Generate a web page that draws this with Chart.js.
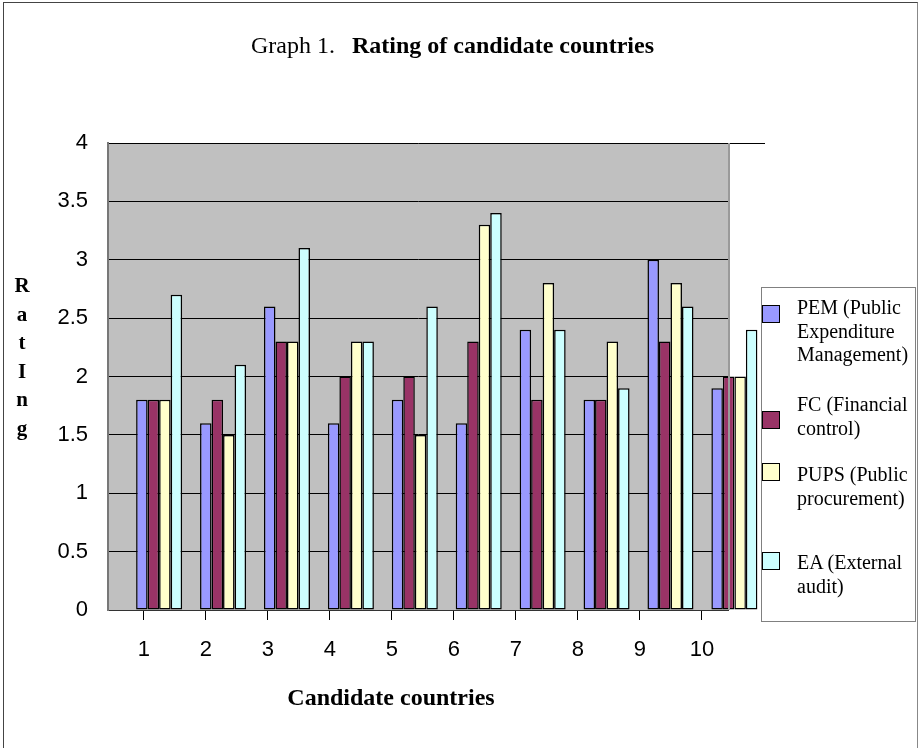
<!DOCTYPE html>
<html>
<head>
<meta charset="utf-8">
<script src="https://cdn.jsdelivr.net/npm/chart.js@4"></script>
<style>
  body { margin: 0; background: #fff; }
  #wrap { position: relative; width: 918px; height: 748px; overflow: hidden; }
  #frame { position: absolute; left: 3px; top: 2px; width: 913px; height: 800px;
    border: 1px solid #444; border-right-color: #888; border-bottom: none; }
  canvas { position: absolute; left: 0; top: 0; }
  #legend { position: absolute; left: 761px; top: 287px; width: 155px; height: 335px;
    border: 1px solid #808080; background: #fff; box-sizing: border-box;
    font-family: "Liberation Serif", "Times New Roman", serif; font-size: 20px; line-height: 23.5px; }
  #legend .sw { position: absolute; left: 0; width: 18px; height: 18px; border: 1px solid #000; box-sizing: border-box; }
  #legend .tx { position: absolute; left: 35px; width: 120px; }
</style>
</head>
<body>
<div id="wrap">
  <div id="frame"></div>
  <canvas id="ratingChart" width="918" height="748"></canvas>
  <div id="legend"></div>
</div>
<script>
const countries = [1, 2, 3, 4, 5, 6, 7, 8, 9, 10];
const pem  = [1.8, 1.6, 2.6, 1.6, 1.8, 1.6, 2.4, 1.8, 3.0, 1.9];
const fc   = [1.8, 1.8, 2.3, 2.0, 2.0, 2.3, 1.8, 1.8, 2.3, 2.0];
const pups = [1.8, 1.5, 2.3, 2.3, 1.5, 3.3, 2.8, 2.3, 2.8, 2.0];
const ea   = [2.7, 2.1, 3.1, 2.3, 2.6, 3.4, 2.4, 1.9, 2.6, 2.4];
const seriesNames = [
  "PEM (Public Expenditure Management)",
  "FC (Financial control)",
  "PUPS (Public procurement)",
  "EA (External audit)",
];
const seriesColors = ["#9999ff", "#993366", "#ffffcc", "#ccffff"];
const yLetters = ["R", "a", "t", "I", "n", "g"];

Chart.defaults.font.family = "'Liberation Sans', Arial, sans-serif";
Chart.defaults.color = "#000";

const seriesValues = [pem, fc, pups, ea];
const datasets = seriesValues.map((vals, i) => {
  return {
    label: seriesNames[i],
    data: countries.map((c, j) => ({ x: c, y: vals[j] })),
    backgroundColor: seriesColors[i],
    borderColor: "#000",
    borderWidth: 1.5,
    borderSkipped: false,
    clip: false,
  };
});

// gray plot, text bits that Chart.js can't lay out the same way
const decor = {
  id: "decor",
  beforeDraw(chart) {
    const { ctx, chartArea: a } = chart;
    ctx.save();
    ctx.fillStyle = "#c0c0c0";
    ctx.fillRect(a.left, a.top, a.right - a.left, a.bottom - a.top);
    ctx.restore();
  },
  afterDraw(chart) {
    const { ctx, chartArea: a, scales } = chart;
    ctx.save();
    // top gridline runs past the plot
    const yTop = scales.y.getPixelForValue(4);
    ctx.strokeStyle = "#000";
    ctx.lineWidth = 1;
    ctx.beginPath();
    ctx.moveTo(a.right, yTop + 0.5);
    ctx.lineTo(a.right + 37, yTop + 0.5);
    ctx.stroke();
    // right edge of plot
    ctx.strokeStyle = "#9a9a9a";
    ctx.lineWidth = 2;
    ctx.beginPath();
    ctx.moveTo(a.right + 1, a.top);
    ctx.lineTo(a.right + 1, a.bottom);
    ctx.stroke();

    ctx.fillStyle = "#000";
    ctx.textBaseline = "middle";
    ctx.textAlign = "left";
    ctx.font = "24px 'Liberation Serif'";
    ctx.fillText("Graph 1.", 251, 47);
    ctx.font = "bold 24px 'Liberation Serif'";
    ctx.fillText("Rating of candidate countries", 352, 47);

    ctx.textAlign = "center";
    ctx.fillText("Candidate countries", 391, 699);

    ctx.font = "bold 21px 'Liberation Serif'";
    yLetters.forEach((ch, i) => {
      ctx.fillText(ch, 22, 287 + i * 28.5);
    });
    ctx.restore();
  },
};

const countryTicks = (axis) => {
  axis.ticks = countries.map((c) => ({ value: c }));
};

const config = {
  type: "bar",
  data: { datasets: datasets },
  options: {
    responsive: false,
    animation: false,
    layout: { padding: { left: 0, top: 143, right: 190, bottom: 0 } },
    datasets: { bar: { categoryPercentage: 0.72, barPercentage: 1.0 } },
    scales: {
      x: {
        type: "linear",
        display: false,
        min: 0.2,
        max: 9.9,
        offset: false,
        afterBuildTicks: countryTicks,
        grid: { offset: false },
      },
      x2: {
        type: "linear",
        position: "bottom",
        min: 0.42,
        max: 10.42,
        offset: false,
        afterBuildTicks: countryTicks,
        afterFit: (axis) => {
          axis.height = 138;
        },
        ticks: { font: { size: 22 }, padding: 17, maxRotation: 0, autoSkip: false },
        grid: { offset: false, drawOnChartArea: false, tickLength: 10, color: "#000" },
        border: { color: "#333", width: 1 },
      },
      y: {
        min: 0,
        max: 4,
        ticks: {
          stepSize: 0.5,
          font: { size: 22 },
          padding: 20,
          callback: (value) => String(value),
        },
        afterFit: (axis) => {
          axis.width = 108;
        },
        grid: { color: "#000", drawTicks: false },
        border: { color: "#777", width: 2 },
      },
    },
    plugins: {
      legend: { display: false },
      tooltip: { enabled: false },
      title: { display: false },
    },
  },
  plugins: [decor],
};

const myChart = new Chart(document.getElementById("ratingChart"), config);

// legend box, laid out like the original
const swatchTops = [17, 123, 175, 264];
const textTops = [8, 105, 175, 263];
const legend = document.getElementById("legend");
let legendHtml = "";
seriesNames.forEach((name, i) => {
  legendHtml += `<div class="sw" style="top:${swatchTops[i]}px;background:${seriesColors[i]}"></div>
    <div class="tx" style="top:${textTops[i]}px">${name}</div>`;
});
legend.innerHTML = legendHtml;
</script>
</body>
</html>
